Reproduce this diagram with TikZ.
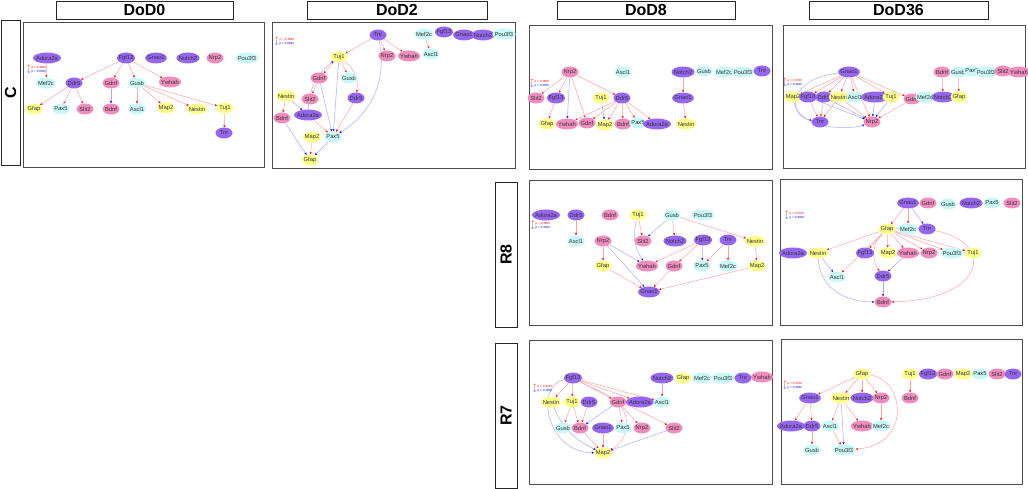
\documentclass[tikz,border=0pt]{standalone}
\usepackage{fontspec}
\setmainfont{Liberation Sans}
\usetikzlibrary{arrows.meta, shapes.geometric, backgrounds, calc}

\definecolor{gpur}{RGB}{150,102,240}
\definecolor{gpink}{RGB}{240,140,190}
\definecolor{gcyan}{RGB}{200,248,248}
\definecolor{gyel}{RGB}{255,255,140}
\definecolor{ered}{RGB}{255,165,165}
\definecolor{eblue}{RGB}{170,170,255}
% gene colours
\colorlet{cAdora2a}{gpur}\colorlet{cFgf13}{gpur}\colorlet{cGnao1}{gpur}
\colorlet{cNotch2}{gpur}\colorlet{cDdr5}{gpur}\colorlet{cTnr}{gpur}
\colorlet{cNrp2}{gpink}\colorlet{cGdnf}{gpink}\colorlet{cYwhah}{gpink}
\colorlet{cSlit2}{gpink}\colorlet{cBdnf}{gpink}
\colorlet{cPou3f3}{gcyan}\colorlet{cMef2c}{gcyan}\colorlet{cGusb}{gcyan}
\colorlet{cPax5}{gcyan}\colorlet{cAscl1}{gcyan}
\colorlet{cGfap}{gyel}\colorlet{cMap2}{gyel}\colorlet{cNestin}{gyel}\colorlet{cTuj1}{gyel}

\tikzset{
  gene/.style={ellipse, inner xsep=-1pt, inner ysep=0pt, minimum height=11pt,
    minimum width=17pt, font=\fontsize{5.8}{6}\selectfont, text=black!80},
  redge/.style={draw=ered, line width=0.5pt, -{Stealth[length=2.4pt,width=2.2pt,color=red]}},
  bedge/.style={draw=eblue, line width=0.5pt, -{Stealth[length=2.4pt,width=2.2pt,color=blue]}},
  panel/.style={draw=black!70, line width=1pt},
  head/.style={draw=black!85, line width=0.8pt, inner sep=0pt,
    font=\bfseries\fontsize{16}{16}\selectfont},
  legend/.style={font=\fontsize{3}{3}\selectfont, inner sep=0pt, anchor=west}
}

\begin{document}
\begin{tikzpicture}[x=1pt, y=-1pt]
    \useasboundingbox (0,0) rectangle (1028,489);
    % column heads and row labels
    \node[head, minimum width=177pt, minimum height=18pt] (hDoD0) at (144.5,10) {DoD0};
    \node[head, minimum width=180pt, minimum height=18pt] (hDoD2) at (397,10) {DoD2};
    \node[head, minimum width=178pt, minimum height=18pt] (hDoD8) at (646,10) {DoD8};
    \node[head, minimum width=179pt, minimum height=18pt] (hDoD36) at (898.5,10) {DoD36};
    \node[head, rotate=90, minimum width=145pt, minimum height=19pt] (rowC) at (10.5,92.5) {C};
    \node[head, rotate=90, minimum width=145pt, minimum height=22pt] (rowR8) at (506,254.5) {R8};
    \node[head, rotate=90, minimum width=145pt, minimum height=22pt] (rowR7) at (506,415.5) {R7};

    \draw[panel] (23,23) rectangle (264,168);
    \draw[panel] (272,23) rectangle (515,169);
    \draw[panel] (529,26) rectangle (772,170);
    \draw[panel] (783,26) rectangle (1025,169);
    \draw[panel] (529,181) rectangle (772,325);
    \draw[panel] (780,180) rectangle (1022,325);
    \draw[panel] (529,340) rectangle (772,484);
    \draw[panel] (781,339) rectangle (1022,484);

    % legends
    \foreach \p/\x/\y/\u/\d in {c0/27/67/0.4800/0.5000, c2/275/39/0.4800/0.5000,
        c8/530/81/0.4800/0.5000, c36/783/80/0.3700/0.3000, ra/531/223/0.4800/0.3000,
        rb/785/213/0.3700/0.3000, rc/533/386/0.3700/0.3000, rd/783/383/0.3700/0.3000}{
        \node[legend, text=red] (\p lgu) at (\x,\y) {$\uparrow$ p = \u};
        \node[legend, text=blue] (\p lgd) at (\x,\y+4.5) {$\downarrow$ p = \d};
    }

    % C / DoD0
    \foreach \n/\x/\y in {Adora2a/47/58, Fgf13/126/58, Gnao1/156/58, Notch2/188/58,
        Nrp2/215/58, Pou3f3/247/58, Mef2c/46/83, Ddr5/74/83, Gdnf/111/83, Gusb/137/83,
        Ywhah/170/82, Gfap/34/109, Pax5/61/109, Slit2/85/109, Bdnf/111/109,
        Ascl1/137/109, Map2/166/108, Nestin/197/109, Tuj1/225/108, Tnr/224/133}
        \node[gene, fill=c\n] (c0\n) at (\x,\y) {\n};
    % C / DoD2
    \foreach \n/\x/\y in {Tnr/378/35, Mef2c/424/34, Fgf13/444/32, Gnao1/464/35,
        Notch2/483/35, Pou3f3/504/34, Tuj1/339/57, Nrp2/387/56, Ywhah/409/56,
        Ascl1/431/54, Gdnf/319/78, Gusb/349/78, Nestin/286/96, Slit2/310/99,
        Ddr5/356/98, Bdnf/282/118, Adora2a/308/115, Map2/312/137, Pax5/333/137, Gfap/310/160}
        \node[gene, fill=c\n] (c2\n) at (\x,\y) {\n};
    % C / DoD8
    \foreach \n/\x/\y in {Nrp2/570/72, Ascl1/623/72, Notch2/683/72, Gusb/704/71,
        Mef2c/724/72, Pou3f3/743/72, Tnr/762/71, Slit2/536/98, Fgf13/556/98, Tuj1/601/98,
        Ddr5/622/98, Gnao1/683/98, Gfap/547/124, Ywhah/567/124, Gdnf/587/123,
        Map2/605/125, Bdnf/623/124, Pax5/638/123, Adora2a/657/124, Nestin/686/124}
        \node[gene, fill=c\n] (c8\n) at (\x,\y) {\n};
    % C / DoD36
    \foreach \n/\x/\y in {Gnao1/849/72, Bdnf/942/72, Gusb/958/72, Pax5/972/71,
        Pou3f3/986/72, Slit2/1003/71, Ywhah/1019/72, Map2/793/97, Fgf13/808/97,
        Ddr5/824/97, Nestin/839/97, Ascl1/855/97, Adora2a/875/97, Tuj1/891/97,
        Gdnf/912/99, Mef2c/925/97, Notch2/943/97, Gfap/959/97, Tnr/820/122, Nrp2/872/122}
        \node[gene, fill=c\n] (c36\n) at (\x,\y) {\n};
    % R8 / DoD8
    \foreach \n/\x/\y in {Adora2a/546/215, Ddr5/576/215, Bdnf/610/215, Tuj1/638/215,
        Gusb/672/215, Pou3f3/703/215, Ascl1/576/241, Nrp2/603/241, Slit2/643/241,
        Notch2/675/241, Fgf13/703/240, Tnr/728/240, Nestin/755/241, Gfap/603/266,
        Ywhah/647/266, Gdnf/674/266, Pax5/702/266, Mef2c/728/266, Map2/757/266, Gnao1/649/292}
        \node[gene, fill=c\n] (ra\n) at (\x,\y) {\n};
    % R8 / DoD36
    \foreach \n/\x/\y in {Gnao1/908/203, Gdnf/928/203, Gusb/948/204, Notch2/971/203,
        Pax5/992/203, Slit2/1012/203, Gfap/887/229, Mef2c/908/229, Tnr/927/229,
        Adora2a/793/253, Nestin/818/253, Fgf13/865/253, Map2/888/253, Ywhah/908/253,
        Nrp2/929/253, Pou3f3/952/253, Tuj1/973/253, Ascl1/837/277, Ddr5/883/276, Bdnf/883/302}
        \node[gene, fill=c\n] (rb\n) at (\x,\y) {\n};
    % R7 / DoD8
    \foreach \n/\x/\y in {Fgf13/573/378, Notch2/662/378, Gfap/683/378, Mef2c/702/378,
        Pou3f3/723/378, Tnr/743/378, Ywhah/762/377, Nestin/551/402, Tuj1/572/402,
        Ddr5/589/402, Gdnf/618/402, Adora2a/640/402, Ascl1/662/402, Gusb/563/428,
        Bdnf/580/428, Gnao1/603/428, Pax5/623/428, Nrp2/642/428, Slit2/674/428, Map2/603/453}
        \node[gene, fill=c\n] (rc\n) at (\x,\y) {\n};
    % R7 / DoD36
    \foreach \n/\x/\y in {Gfap/862/374, Tuj1/910/374, Fgf13/928/374, Gdnf/945/374,
        Map2/963/374, Pax5/980/374, Slit2/997/374, Tnr/1013/374, Gnao1/810/398,
        Nestin/841/398, Notch2/862/398, Nrp2/881/398, Bdnf/910/398, Adora2a/791/426,
        Ddr5/812/426, Ascl1/830/426, Ywhah/862/426, Mef2c/881/426, Gusb/812/450, Pou3f3/844/450}
        \node[gene, fill=c\n] (rd\n) at (\x,\y) {\n};

    \begin{pgfonlayer}{background}
    % C / DoD0
    \foreach \a/\b in {Fgf13/Ddr5, Fgf13/Gdnf, Fgf13/Gusb, Fgf13/Ywhah, Adora2a/Mef2c,
        Ddr5/Gfap, Ddr5/Pax5, Ddr5/Slit2, Gusb/Ascl1, Gusb/Map2, Gusb/Nestin, Gusb/Tuj1, Tuj1/Tnr}
        \draw[redge] (c0\a) -- (c0\b);
    \draw[bedge] (c0Gdnf) -- (c0Bdnf);
    % C / DoD2
    \foreach \a/\b in {Tnr/Tuj1, Tnr/Nrp2, Tnr/Ywhah, Mef2c/Ascl1, Tuj1/Gdnf, Tuj1/Gusb,
        Gdnf/Slit2, Nestin/Bdnf, Ddr5/Pax5, Adora2a/Pax5, Map2/Gfap}
        \draw[redge] (c2\a) -- (c2\b);
    \foreach \a/\b in {Tuj1/Pax5, Gdnf/Pax5, Nestin/Adora2a, Bdnf/Gfap, Pax5/Gfap}
        \draw[bedge] (c2\a) -- (c2\b);
    \draw[redge] (c2Tuj1) to[bend left=30] (c2Ddr5);
    \draw[bedge] (c2Tnr) to[bend left=35] (c2Pax5);
    \draw[bedge] (c2Adora2a) to[bend left=25] (c2Tuj1);
    % C / DoD8
    \foreach \a/\b in {Nrp2/Slit2, Nrp2/Fgf13, Nrp2/Gdnf, Nrp2/Ddr5, Fgf13/Gfap, Ddr5/Ywhah,
        Ddr5/Gdnf, Ddr5/Map2, Ddr5/Bdnf, Ddr5/Pax5, Ddr5/Adora2a, Notch2/Gnao1, Gnao1/Nestin}
        \draw[redge] (c8\a) -- (c8\b);
    \foreach \a/\b in {Nrp2/Ywhah, Tuj1/Map2}
        \draw[bedge] (c8\a) -- (c8\b);
    % C / DoD36
    \foreach \a/\b in {Gnao1/Map2, Gnao1/Fgf13, Gnao1/Ddr5, Gnao1/Nestin, Gnao1/Ascl1,
        Gnao1/Tuj1, Gnao1/Gdnf, Gnao1/Nrp2, Fgf13/Tnr, Ddr5/Tnr, Nestin/Tnr, Nestin/Nrp2,
        Gdnf/Nrp2, Bdnf/Notch2, Gusb/Gfap}
        \draw[redge] (c36\a) -- (c36\b);
    \foreach \a/\b in {Fgf13/Nrp2, Ddr5/Nrp2, Adora2a/Nrp2, Tuj1/Nrp2}
        \draw[bedge] (c36\a) -- (c36\b);
    \draw[bedge] (c36Gnao1) .. controls (790,78) and (785,115) .. (c36Tnr);
    \draw[bedge] (c36Map2) .. controls (800,130) and (850,130) .. (c36Nrp2);
    % R8 / DoD8
    \foreach \a/\b in {Ddr5/Ascl1, Tuj1/Slit2, Gusb/Notch2, Gusb/Nestin, Nrp2/Gfap,
        Fgf13/Ywhah, Fgf13/Gdnf, Tnr/Pax5, Tnr/Mef2c, Nestin/Map2, Gfap/Gnao1,
        Gdnf/Gnao1, Map2/Gnao1}
        \draw[redge] (ra\a) -- (ra\b);
    \foreach \a/\b in {Gusb/Slit2, Nrp2/Ywhah, Nrp2/Gnao1, Fgf13/Pax5}
        \draw[bedge] (ra\a) -- (ra\b);
    \draw[bedge] (raTuj1) to[bend right=25] (raYwhah);
    % R8 / DoD36
    \foreach \a/\b in {Gnao1/Gfap, Gnao1/Mef2c, Gfap/Nestin, Gfap/Ascl1, Gfap/Fgf13,
        Gfap/Map2, Gfap/Ywhah, Gfap/Nrp2, Gfap/Pou3f3, Gfap/Tuj1}
        \draw[redge] (rb\a) -- (rb\b);
    \foreach \a/\b in {Gnao1/Tnr, Nestin/Ascl1, Ywhah/Ddr5, Ddr5/Bdnf}
        \draw[bedge] (rb\a) -- (rb\b);
    \draw[redge] (rbGfap) to[bend right=40] (rbDdr5);
    \draw[redge] (rbGfap) .. controls (1000,222) and (1000,300) .. (rbBdnf);
    \draw[bedge] (rbNestin) .. controls (820,292) and (850,302) .. (rbBdnf);
    % R7 / DoD8
    \foreach \a/\b in {Fgf13/Nestin, Fgf13/Tuj1, Fgf13/Gdnf, Fgf13/Adora2a, Fgf13/Ascl1,
        Fgf13/Slit2, Notch2/Ascl1, Tuj1/Gusb, Tuj1/Bdnf, Ddr5/Bdnf, Gdnf/Pax5, Gdnf/Nrp2,
        Bdnf/Map2, Gnao1/Map2}
        \draw[redge] (rc\a) -- (rc\b);
    \foreach \a/\b in {Gdnf/Bdnf, Slit2/Map2}
        \draw[bedge] (rc\a) -- (rc\b);
    \draw[bedge] (rcFgf13) .. controls (535,385) and (545,452) .. (rcMap2);
    \draw[bedge] (rcNestin) to[bend right=20] (rcMap2);
    \draw[redge] (rcGdnf) to[bend left=50] (rcMap2);
    % R7 / DoD36
    \foreach \a/\b in {Gfap/Gnao1, Gfap/Nestin, Gfap/Notch2, Gfap/Nrp2, Tuj1/Bdnf,
        Gnao1/Adora2a, Gnao1/Ddr5, Ddr5/Gusb, Nestin/Ascl1, Nestin/Ywhah, Ascl1/Pou3f3, Nrp2/Mef2c}
        \draw[redge] (rd\a) -- (rd\b);
    \draw[bedge] (rdNestin) -- (rdPou3f3);
    \draw[redge] (rdGfap) .. controls (905,380) and (912,445) .. (rdPou3f3);
    \end{pgfonlayer}
\end{tikzpicture}
\end{document}
